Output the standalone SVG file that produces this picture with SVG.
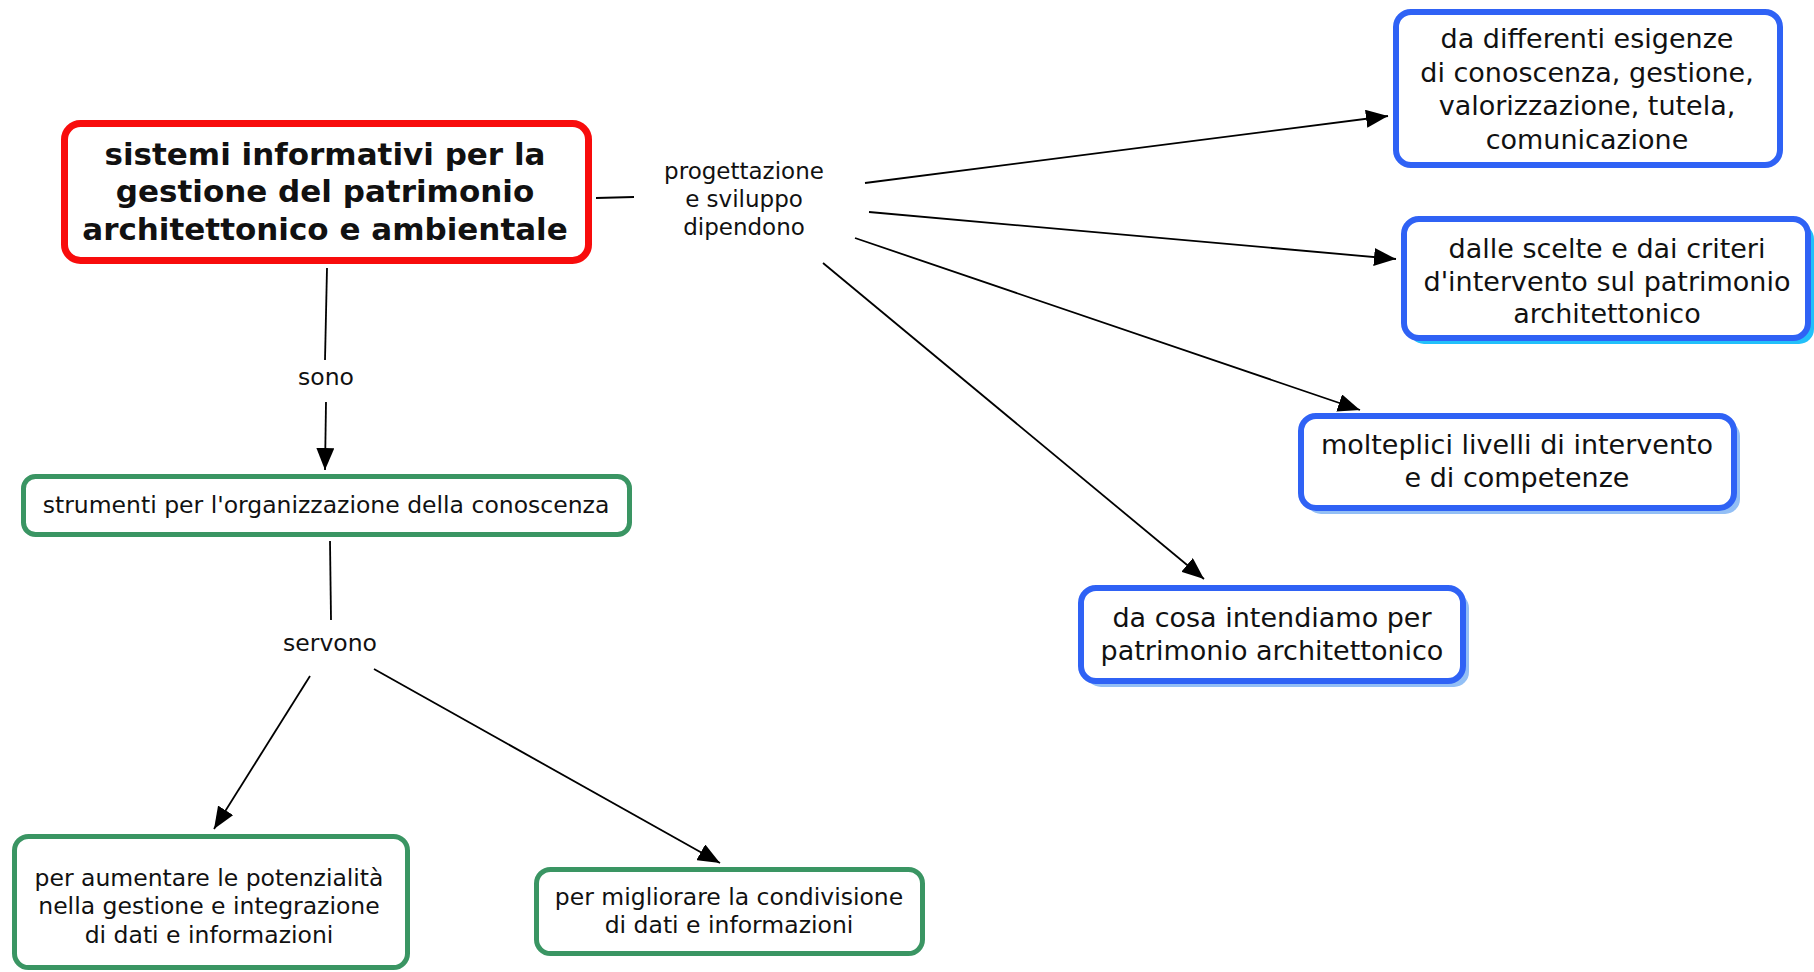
<svg xmlns="http://www.w3.org/2000/svg" width="1814" height="972" viewBox="0 0 1814 972">
<defs>
<marker id="arr" markerUnits="userSpaceOnUse" markerWidth="24" markerHeight="18" viewBox="0 0 24 18" refX="22" refY="9" orient="auto">
<path d="M0,0 L22,9 L0,18 Z" fill="#000"/>
</marker>
<style>
.t{font-family:"DejaVu Sans","Liberation Sans",sans-serif;fill:#111;text-anchor:middle}
.title{font-size:31px;font-weight:bold}
.blue{font-size:27px}
.green{font-size:23.5px}
.lab{font-size:23.5px}
.lab2{font-size:23px}
.bx{fill:#fff;stroke:#2f62f5;stroke-width:6}
.gx{fill:#fff;stroke:#3a9563;stroke-width:5}
.rx{fill:#fff;stroke:#f80c0c;stroke-width:7}
.sh{fill:#93bff5}
.sh2{fill:#22c0fa}
.c{stroke:#000;stroke-width:1.8;fill:none}
.ca{stroke:#000;stroke-width:1.8;fill:none;marker-end:url(#arr)}
</style>
</defs>
<rect width="1814" height="972" fill="#fff"/>
<g id="connectors">
<line class="c" x1="596" y1="198" x2="634" y2="197"/>
<line class="c" x1="327" y1="268" x2="325" y2="360"/>
<line class="ca" x1="326" y1="402" x2="325" y2="470"/>
<line class="c" x1="330" y1="541" x2="331" y2="620"/>
<line class="ca" x1="310" y1="676" x2="214" y2="829"/>
<line class="ca" x1="374" y1="669" x2="720" y2="863"/>
<line class="ca" x1="865" y1="183" x2="1388" y2="116"/>
<line class="ca" x1="869" y1="212" x2="1396" y2="259"/>
<line class="ca" x1="855" y1="238" x2="1360" y2="410"/>
<line class="ca" x1="823" y1="263" x2="1204" y2="579"/>
</g>
<g id="labels">
<text class="t lab2"><tspan x="744" y="179">progettazione</tspan><tspan x="744" y="207">e sviluppo</tspan><tspan x="744" y="235">dipendono</tspan></text>
<text class="t lab" x="326" y="385">sono</text>
<text class="t lab" x="330" y="651">servono</text>
</g>
<g id="n-main">
<rect class="rx" x="64.5" y="123.5" width="524" height="137" rx="16"/>
<text class="t title"><tspan x="325" y="165">sistemi informativi per la</tspan><tspan x="325" y="202">gestione del patrimonio</tspan><tspan x="325" y="240">architettonico e ambientale</tspan></text>
</g>
<g id="n-esigenze">
<rect class="bx" x="1396" y="12" width="384" height="153" rx="15"/>
<text class="t blue"><tspan x="1587" y="48">da differenti esigenze</tspan><tspan x="1587" y="82">di conoscenza, gestione,</tspan><tspan x="1587" y="115">valorizzazione, tutela,</tspan><tspan x="1587" y="149">comunicazione</tspan></text>
</g>
<g id="n-scelte">
<rect class="sh2" x="1409" y="224" width="405" height="120" rx="15"/>
<rect class="bx" x="1404" y="219" width="404" height="119" rx="15"/>
<text class="t blue"><tspan x="1607" y="258">dalle scelte e dai criteri</tspan><tspan x="1607" y="291">d'intervento sul patrimonio</tspan><tspan x="1607" y="323">architettonico</tspan></text>
</g>
<g id="n-livelli">
<rect class="sh" x="1306" y="421" width="434" height="93" rx="15"/>
<rect class="bx" x="1301" y="416" width="433" height="92" rx="15"/>
<text class="t blue"><tspan x="1517" y="454">molteplici livelli di intervento</tspan><tspan x="1517" y="487">e di competenze</tspan></text>
</g>
<g id="n-cosa">
<rect class="sh" x="1086" y="593" width="383" height="94" rx="15"/>
<rect class="bx" x="1081" y="588" width="382" height="93" rx="15"/>
<text class="t blue"><tspan x="1272" y="627">da cosa intendiamo per</tspan><tspan x="1272" y="660">patrimonio architettonico</tspan></text>
</g>
<g id="n-strumenti">
<rect class="gx" x="23.5" y="476.5" width="606" height="58" rx="12"/>
<text class="t green" x="326" y="513">strumenti per l'organizzazione della conoscenza</text>
</g>
<g id="n-aumentare">
<rect class="gx" x="14.5" y="836.5" width="393" height="131" rx="14"/>
<text class="t green"><tspan x="209" y="886">per aumentare le potenzialità</tspan><tspan x="209" y="914">nella gestione e integrazione</tspan><tspan x="209" y="943">di dati e informazioni</tspan></text>
</g>
<g id="n-migliorare">
<rect class="gx" x="536.5" y="869.5" width="386" height="84" rx="14"/>
<text class="t green"><tspan x="729" y="905">per migliorare la condivisione</tspan><tspan x="729" y="933">di dati e informazioni</tspan></text>
</g>
</svg>
